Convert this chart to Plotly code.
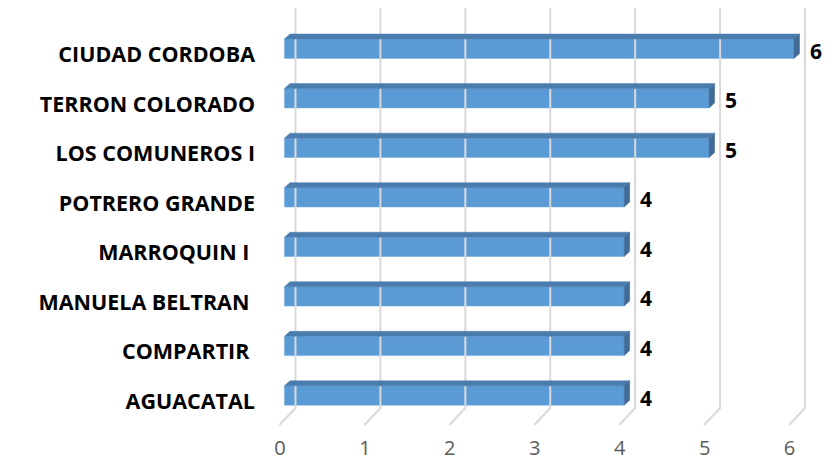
import plotly.graph_objects as go

# ---- data ----
categories = ["AGUACATAL", "COMPARTIR\u00a0", "MANUELA BELTRAN\u00a0", "MARROQUIN I\u00a0",
              "POTRERO GRANDE", "LOS COMUNEROS I", "TERRON COLORADO", "CIUDAD CORDOBA"]
values = [4, 4, 4, 4, 4, 5, 5, 6]
x_ticks = [0, 1, 2, 3, 4, 5, 6]
x_tick_labels = ["0", "1", "2", "3", "4", "5", "6"]

# ---- styling / geometry (page has an 8px body margin) ----
PAGE_OFF = 8
W, H = 831 - PAGE_OFF, 464 - 2 * PAGE_OFF
FRONT = "#5B9BD5"
TOP = "#4A7DAE"
SIDE = "#3F6B96"
GRID = "#D9D9D9"
PX_X = 85.0            # pixels per x unit
PX_Y = 49.54           # pixels per category
BAR_W = 0.39
DX = 5.5 / PX_X        # depth offset (x)
DY = 5.0 / PX_Y        # depth offset (y)
BASE_Y = 395.5 - PAGE_OFF          # centre of lowest bar (figure px)
PLOT_BOTTOM = 434 - PAGE_OFF
Y_TOP = BASE_Y / PX_Y
Y_BOT = -(PLOT_BOTTOM - BASE_Y) / PX_Y
X_MIN = -0.3
LEFT = (284 - PAGE_OFF) + X_MIN * PX_X
X_MAX = X_MIN + (W - 5 - LEFT) / PX_X
FONT = "Open Sans"

ypos = list(range(len(categories)))

fig = go.Figure()

# back-wall gridlines with floor foot
gx, gy = [], []
for k in x_ticks:
    gx += [k + 11 / PX_X, k + 11 / PX_X, k - 5 / PX_X, None]
    gy += [Y_TOP, -12.5 / PX_Y, -29.5 / PX_Y, None]
fig.add_trace(go.Scatter(x=gx, y=gy, mode="lines", line=dict(color=GRID, width=2),
                         hoverinfo="skip", showlegend=False, cliponaxis=False))

# front faces
fig.add_trace(go.Bar(x=values, y=ypos, orientation="h", width=BAR_W,
                     marker=dict(color=FRONT, line=dict(color="#6FA8DC", width=0.5)),
                     showlegend=False, hoverinfo="skip"))

# top and side faces
for v, y in zip(values, ypos):
    t = y + BAR_W / 2
    b = y - BAR_W / 2
    fig.add_trace(go.Scatter(x=[0, v, v + DX, DX, 0], y=[t, t, t + DY, t + DY, t],
                             fill="toself", fillcolor=TOP, mode="lines",
                             line=dict(color=TOP, width=0.5),
                             hoverinfo="skip", showlegend=False))
    fig.add_trace(go.Scatter(x=[v, v + DX, v + DX, v, v], y=[t, t + DY, b + DY, b, t],
                             fill="toself", fillcolor=SIDE, mode="lines",
                             line=dict(color=SIDE, width=0.5),
                             hoverinfo="skip", showlegend=False))

# value labels
for v, y in zip(values, ypos):
    fig.add_annotation(x=v, y=y, text=str(v), showarrow=False, xanchor="center",
                       xshift=22, yshift=-2,
                       font=dict(family=FONT, size=21, color="#000000", weight="bold"))

fig.update_layout(
    width=W, height=H,
    margin=dict(l=LEFT, r=5, t=0, b=H - PLOT_BOTTOM),
    plot_bgcolor="white", paper_bgcolor="white",
    xaxis=dict(range=[X_MIN, X_MAX], showgrid=False, zeroline=False, showline=False,
               automargin=False,
               tickvals=[k - 4.5 / PX_X for k in x_ticks], ticktext=x_tick_labels,
               tickfont=dict(family=FONT, size=20, color="#595959"), ticks=""),
    yaxis=dict(range=[Y_BOT, Y_TOP], showgrid=False, zeroline=False, showline=False,
               automargin=False, ticklabelstandoff=3,
               tickvals=[y - 6 / PX_Y for y in ypos], ticktext=categories,
               tickfont=dict(family=FONT, size=21.5, color="#000000", weight="bold"),
               ticks=""),
)

fig.write_html("out.html")
